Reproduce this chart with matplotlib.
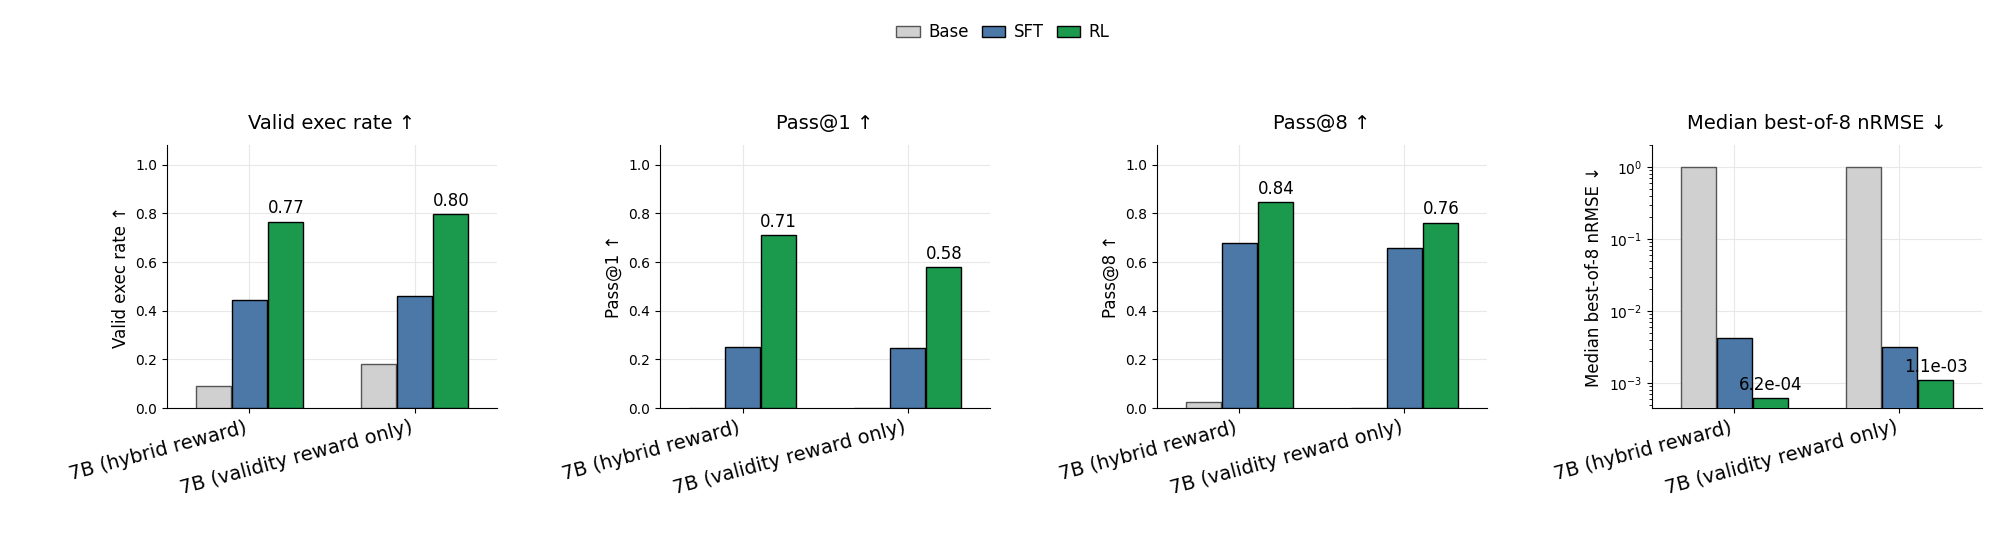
import numpy as np
import matplotlib.pyplot as plt

groups = ["7B (hybrid reward)", "7B (validity reward only)"]
series = ["Base", "SFT", "RL"]
colors = ["#d0d0d0", "#4c78a8", "#1b9a4e"]

valid_exec = {"Base": [0.09, 0.18], "SFT": [0.445, 0.462], "RL": [0.766, 0.798]}
pass1 = {"Base": [0.0, 0.0], "SFT": [0.25, 0.248], "RL": [0.71, 0.58]}
pass8 = {"Base": [0.025, 0.0], "SFT": [0.68, 0.657], "RL": [0.845, 0.762]}
nrmse = {"Base": [1.0, 1.0], "SFT": [0.0042, 0.0032], "RL": [0.00062, 0.0011]}

panels = [
    ("Valid exec rate ↑", valid_exec, False),
    ("Pass@1 ↑", pass1, False),
    ("Pass@8 ↑", pass8, False),
    ("Median best-of-8 nRMSE ↓", nrmse, True),
]

fig = plt.figure(figsize=(20.06, 5.5), dpi=100)
lefts = [167, 660, 1157, 1652]
width_px = 330
x = np.arange(len(groups))
bw = 0.22

for (title, data, logy), lpx in zip(panels, lefts):
    ax = fig.add_axes([lpx / 2006, 0.258, width_px / 2006, 0.478])
    for i, s in enumerate(series):
        ec = "#555555" if s == "Base" else "black"
        ax.bar(x + (i - 1) * bw, data[s], bw * 0.97, color=colors[i],
               edgecolor=ec, linewidth=1.0, label=s, zorder=3)
    for j in range(len(groups)):
        v = data["RL"][j]
        lab = f"{v:.1e}" if logy else f"{v:.2f}"
        ax.annotate(lab, (x[j] + bw, v), textcoords="offset points",
                    xytext=(0, 3), ha="center", va="bottom", fontsize=12, zorder=4)
    if logy:
        ax.set_yscale("log")
        ax.set_ylim(4.5e-4, 2.0)
    else:
        ax.set_ylim(0, 1.08)
        ax.set_yticks([0, 0.2, 0.4, 0.6, 0.8, 1.0])
    ax.set_xlim(-0.5, 1.5)
    ax.set_xticks(x)
    ax.set_xticklabels(groups, rotation=15, ha="right", fontsize=14)
    ax.set_ylabel(title, fontsize=12)
    ax.set_title(title, fontsize=14, pad=12)
    ax.tick_params(axis="y", labelsize=10)
    ax.grid(True, color="#e8e8e8", linewidth=0.8, zorder=0)
    ax.spines["top"].set_visible(False)
    ax.spines["right"].set_visible(False)
    if lpx == lefts[0]:
        handles, labels = ax.get_legend_handles_labels()

fig.legend(handles, labels, loc="upper center", ncol=3, frameon=False,
           fontsize=12, bbox_to_anchor=(0.5, 0.985), handlelength=1.4,
           columnspacing=0.8, handletextpad=0.5)
fig.savefig("out.png", dpi=100)
